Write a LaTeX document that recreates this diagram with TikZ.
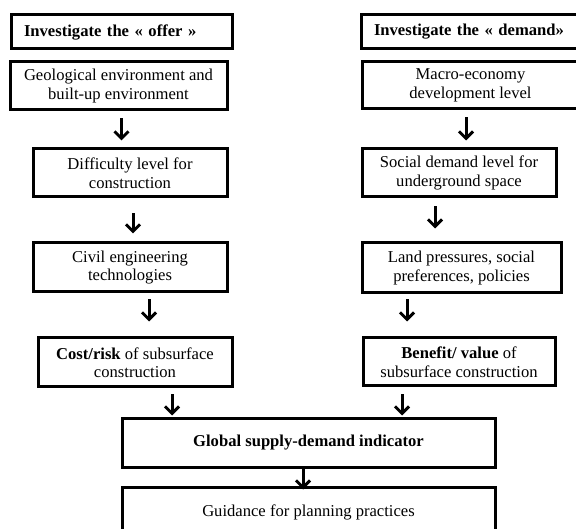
\documentclass[tikz,border=0pt]{standalone}
\usepackage{fontspec}
\setmainfont{Liberation Serif}
\usetikzlibrary{arrows.meta}
\tikzset{
  box/.style={draw,line width=3pt,align=center,inner sep=0pt,
    font=\fontsize{16.6}{18.5}\selectfont},
  headbox/.style={box,align=left,inner xsep=13pt,minimum height=34pt},
  arr/.style={line width=3pt,-{Straight Barb[length=7pt,width=14pt]}}
}
\begin{document}
\begin{tikzpicture}[x=1pt,y=-1pt]
      \useasboundingbox (0,0) rectangle (576,529);
      % offer side
      \node[headbox,text width=195pt] (offer) at (121.5,32) {\textbf{Investigate the « offer »}};
      \node[box,minimum width=217pt,minimum height=48pt] (geo) at (118.5,86) {Geological environment and\\built-up environment};
      \node[box,minimum width=194pt,minimum height=48pt] (diff) at (130,173) {Difficulty level for\\construction};
      \node[box,minimum width=194pt,minimum height=49pt] (civil) at (130,267.5) {Civil engineering\\technologies};
      \node[box,minimum width=194pt,minimum height=49pt] (cost) at (135,362.5) {\textbf{Cost/risk} of subsurface\\construction};
      % demand side
      \node[headbox,text width=201pt] (demand) at (474.5,32) {\textbf{Investigate the « demand»}};
      \node[box,minimum width=217pt,minimum height=47pt] (macro) at (470.5,85.5) {Macro-economy\\development level};
      \node[box,minimum width=194pt,minimum height=48pt] (social) at (459,173) {Social demand level for\\underground space};
      \node[box,minimum width=199pt,minimum height=50pt] (land) at (461.5,268) {Land pressures, social\\preferences, policies};
      \node[box,minimum width=192pt,minimum height=48pt] (benefit) at (459,362) {\textbf{Benefit/ value} of\\subsurface construction};
      % bottom
      \node[box,minimum width=373pt,minimum height=48pt] (global) at (308.5,443) {\textbf{Global supply-demand indicator}};
      \node[box,minimum width=373pt,minimum height=50pt] (guide) at (308.5,512) {Guidance for planning practices};
      % arrows
      \draw[arr,shorten <=7pt,shorten >=7pt] ([xshift=3pt]geo.south) -- ([xshift=3pt]geo.south |- diff.north);
      \draw[arr,shorten <=15pt,shorten >=8pt] ([xshift=3pt]diff.south) -- ([xshift=3pt]diff.south |- civil.north);
      \draw[arr,shorten <=6pt,shorten >=15pt] ([xshift=19pt]civil.south) -- ([xshift=19pt]civil.south |- cost.north);
      \draw[arr,shorten <=6pt,shorten >=2pt] ([xshift=37pt]cost.south) -- ([xshift=37pt]cost.south |- global.north);
      \draw[arr,shorten <=7pt,shorten >=7pt] ([xshift=-4.5pt]macro.south) -- ([xshift=-4.5pt]macro.south |- social.north);
      \draw[arr,shorten <=8pt,shorten >=13pt] ([xshift=-24pt]social.south) -- ([xshift=-24pt]social.south |- land.north);
      \draw[arr,shorten <=5pt,shorten >=15pt] ([xshift=-54.5pt]land.south) -- ([xshift=-54.5pt]land.south |- benefit.north);
      \draw[arr,shorten <=7pt,shorten >=2pt] ([xshift=-57pt]benefit.south) -- ([xshift=-57pt]benefit.south |- global.north);
      \draw[arr,shorten >=-4pt] ([xshift=-5.5pt]global.south) -- ([xshift=-5.5pt]global.south |- guide.north);
\end{tikzpicture}
\end{document}
